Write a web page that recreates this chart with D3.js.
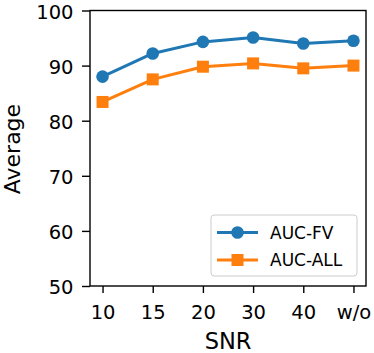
<!DOCTYPE html>
<html>
<head>
<meta charset="utf-8">
<script src="https://d3js.org/d3.v7.min.js"></script>
<style>
  body { margin: 0; background: #fff; }
  svg { display: block; font-family: "DejaVu Sans", sans-serif; }
</style>
</head>
<body>
<svg id="chart"></svg>
<script>
  // SNR levels on the x axis
  var snrLabels = ["10", "15", "20", "30", "40", "w/o"];
  // averages
  var aucFV  = [88.0, 92.2, 94.3, 95.1, 94.0, 94.5];
  var aucALL = [83.4, 87.5, 89.8, 90.4, 89.5, 90.0];
  var yTicks = [50, 60, 70, 80, 90, 100];

  var W = 374, H = 353;
  // plot box (note: "top" is a reserved window prop, so prefixed)
  var pLeft = 90, pRight = 366, pTop = 10.5, pBottom = 286;

  var svg = d3.select("#chart").attr("width", W).attr("height", H);

  // matplotlib style: 5% padding on each side of the index range
  var x = d3.scaleLinear()
    .domain([-0.25, snrLabels.length - 1 + 0.25])
    .range([pLeft, pRight]);
  var y = d3.scaleLinear()
    .domain([50, 100])
    .range([pBottom, pTop]);

  var series = [
    { name: "AUC-FV", values: aucFV, color: "#1f77b4", shape: "circle" },
    { name: "AUC-ALL", values: aucALL, color: "#ff7f0e", shape: "square" }
  ];

  var line = d3.line()
    .x(function(d, i) { return x(i); })
    .y(function(d) { return y(d); });

  series.forEach(function(s) {
    svg.append("path")
      .attr("d", line(s.values))
      .attr("fill", "none")
      .attr("stroke", s.color)
      .attr("stroke-width", 3)
      .attr("stroke-linejoin", "round");

    if (s.shape == "circle") {
      svg.selectAll(null).data(s.values).enter().append("circle")
        .attr("cx", function(d, i) { return x(i); })
        .attr("cy", function(d) { return y(d); })
        .attr("r", 6.3)
        .attr("fill", s.color);
    } else {
      svg.selectAll(null).data(s.values).enter().append("rect")
        .attr("x", function(d, i) { return x(i) - 6; })
        .attr("y", function(d) { return y(d) - 6; })
        .attr("width", 12)
        .attr("height", 12)
        .attr("fill", s.color);
    }
  });

  // axes
  var xAxis = d3.axisBottom(x)
    .tickValues(d3.range(snrLabels.length))
    .tickFormat(function(i) { return snrLabels[i]; })
    .tickSizeInner(7).tickSizeOuter(0);
  var yAxis = d3.axisLeft(y)
    .tickValues(yTicks)
    .tickSizeInner(8).tickSizeOuter(0).tickPadding(8.5);

  var gx = svg.append("g").attr("transform", "translate(0," + pBottom + ")").call(xAxis);
  var gy = svg.append("g").attr("transform", "translate(" + pLeft + ",0)").call(yAxis);
  [gx, gy].forEach(function(g) {
    g.select(".domain").remove();
    g.selectAll(".tick line").attr("stroke", "#000").attr("stroke-width", 1.4);
    g.selectAll(".tick text")
      .attr("fill", "#000")
      .style("font-size", "19.5px")
      .style("font-family", "DejaVu Sans");
  });
  gx.selectAll(".tick text").attr("y", 32.5).attr("dy", 0);
  gy.selectAll(".tick text").attr("dy", "0.4em");

  // frame
  svg.append("rect")
    .attr("x", pLeft).attr("y", pTop)
    .attr("width", pRight - pLeft).attr("height", pBottom - pTop)
    .attr("fill", "none").attr("stroke", "#000").attr("stroke-width", 1.4);

  // axis labels
  svg.append("text")
    .attr("x", (pLeft + pRight) / 2).attr("y", 348.5)
    .attr("text-anchor", "middle")
    .style("font-size", "22.5px")
    .text("SNR");
  svg.append("text")
    .attr("transform", "translate(19.5," + ((pTop + pBottom) / 2 + 0.8) + ") rotate(-90)")
    .attr("text-anchor", "middle")
    .style("font-size", "22px")
    .text("Average");

  // legend
  var lg = svg.append("g");
  lg.append("rect")
    .attr("x", 211).attr("y", 215)
    .attr("width", 146).attr("height", 61)
    .attr("rx", 3)
    .attr("fill", "#fff").attr("fill-opacity", 0.8)
    .attr("stroke", "#cccccc").attr("stroke-width", 1);
  series.forEach(function(s, i) {
    var ly = 232.5 + i * 27.5;
    lg.append("line")
      .attr("x1", 217).attr("x2", 258).attr("y1", ly).attr("y2", ly)
      .attr("stroke", s.color).attr("stroke-width", 3);
    if (s.shape == "circle") {
      lg.append("circle").attr("cx", 237.5).attr("cy", ly).attr("r", 6.3).attr("fill", s.color);
    } else {
      lg.append("rect").attr("x", 231.5).attr("y", ly - 6).attr("width", 12).attr("height", 12).attr("fill", s.color);
    }
    lg.append("text")
      .attr("x", 270).attr("y", ly).attr("dy", "0.36em")
      .style("font-size", "17px")
      .text(s.name);
  });
</script>
</body>
</html>
